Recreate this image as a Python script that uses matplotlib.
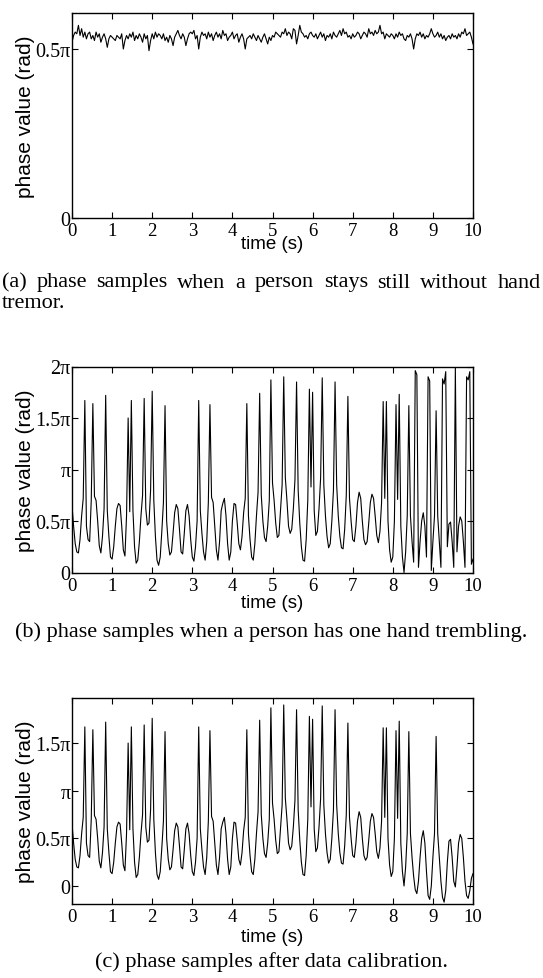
import numpy as np
import matplotlib
matplotlib.use('Agg')
import matplotlib.pyplot as plt

# phase values below are in units of pi (rad / pi), sampled every 0.04 s from 0 to 10 s

# (a) person stays still, no tremor
phase_still = [
    0.52, 0.54, 0.55, 0.545, 0.57, 0.54, 0.56, 0.535, 0.55, 0.53, 0.545, 0.55, 0.53, 0.54, 0.525, 0.55, 0.535, 0.545, 0.52, 0.535, 0.545, 0.53, 0.505, 0.53, 0.54,
    0.535, 0.53, 0.525, 0.54, 0.535, 0.53, 0.545, 0.50, 0.525, 0.54, 0.53, 0.545, 0.535, 0.55, 0.525, 0.54, 0.53, 0.545, 0.535, 0.52, 0.545, 0.53, 0.54, 0.495, 0.525,
    0.545, 0.53, 0.55, 0.535, 0.545, 0.54, 0.53, 0.545, 0.525, 0.535, 0.52, 0.54, 0.53, 0.51, 0.535, 0.545, 0.555, 0.54, 0.53, 0.545, 0.535, 0.51, 0.53, 0.545, 0.55,
    0.545, 0.555, 0.53, 0.54, 0.50, 0.535, 0.55, 0.54, 0.545, 0.53, 0.55, 0.535, 0.545, 0.525, 0.54, 0.55, 0.535, 0.545, 0.53, 0.555, 0.54, 0.545, 0.525, 0.535, 0.54,
    0.55, 0.53, 0.54, 0.545, 0.52, 0.535, 0.545, 0.53, 0.50, 0.53, 0.535, 0.54, 0.53, 0.545, 0.535, 0.525, 0.54, 0.53, 0.52, 0.535, 0.545, 0.53, 0.515, 0.535, 0.525,
    0.54, 0.535, 0.55, 0.545, 0.54, 0.535, 0.55, 0.545, 0.56, 0.54, 0.55, 0.545, 0.53, 0.56, 0.555, 0.515, 0.54, 0.57, 0.55, 0.545, 0.535, 0.54, 0.53, 0.545, 0.55,
    0.54, 0.535, 0.545, 0.53, 0.54, 0.55, 0.535, 0.545, 0.525, 0.54, 0.535, 0.545, 0.53, 0.55, 0.54, 0.535, 0.545, 0.555, 0.54, 0.56, 0.545, 0.55, 0.535, 0.54, 0.53,
    0.545, 0.535, 0.54, 0.55, 0.545, 0.53, 0.54, 0.55, 0.545, 0.535, 0.56, 0.545, 0.55, 0.54, 0.555, 0.545, 0.55, 0.57, 0.545, 0.55, 0.53, 0.545, 0.54, 0.535, 0.545,
    0.54, 0.53, 0.545, 0.535, 0.55, 0.54, 0.545, 0.53, 0.525, 0.54, 0.535, 0.545, 0.53, 0.50, 0.53, 0.545, 0.54, 0.55, 0.535, 0.545, 0.53, 0.54, 0.535, 0.545, 0.56,
    0.545, 0.535, 0.54, 0.55, 0.535, 0.545, 0.53, 0.54, 0.525, 0.535, 0.54, 0.53, 0.545, 0.535, 0.54, 0.53, 0.545, 0.535, 0.55, 0.545, 0.56, 0.54, 0.545, 0.55, 0.535, 0.515,
]

# (b)/(c) hand trembling: 0 .. 8.28 s is the same in the raw and calibrated traces
phase_tremor = [
    0.65, 0.45, 0.28, 0.20, 0.19, 0.32, 0.55, 0.72, 1.67, 0.45, 0.32, 0.30, 0.70, 1.64, 0.74, 0.70, 0.50, 0.26, 0.19, 0.35, 0.62, 1.72, 0.60, 0.35, 0.15,
    0.13, 0.25, 0.45, 0.62, 0.67, 0.65, 0.45, 0.22, 0.16, 0.55, 1.50, 0.59, 1.67, 0.60, 0.25, 0.09, 0.12, 0.30, 0.55, 0.75, 1.69, 0.62, 0.46, 0.48, 0.80,
    1.76, 0.70, 0.35, 0.12, 0.07, 0.15, 0.40, 0.68, 1.62, 0.50, 0.28, 0.17, 0.20, 0.38, 0.58, 0.66, 0.62, 0.42, 0.20, 0.18, 0.38, 0.60, 0.66, 0.55, 0.32,
    0.15, 0.11, 0.25, 0.50, 1.67, 0.60, 0.38, 0.20, 0.12, 0.30, 0.68, 1.63, 0.73, 0.68, 0.45, 0.22, 0.12, 0.30, 0.60, 0.67, 0.72, 0.55, 0.28, 0.12, 0.20,
    0.50, 0.67, 0.66, 0.48, 0.28, 0.22, 0.35, 0.58, 0.72, 1.64, 0.55, 0.32, 0.15, 0.12, 0.28, 0.55, 0.78, 1.74, 0.75, 0.50, 0.34, 0.30, 0.45, 0.70, 1.87,
    0.87, 0.70, 0.48, 0.34, 0.36, 0.60, 0.85, 1.90, 0.92, 0.70, 0.45, 0.38, 0.42, 0.62, 0.90, 1.85, 0.80, 0.48, 0.25, 0.12, 0.11, 0.32, 0.70, 1.78, 0.83,
    1.75, 0.60, 0.36, 0.40, 0.62, 0.92, 1.89, 0.85, 0.55, 0.35, 0.24, 0.28, 0.50, 0.80, 1.85, 0.85, 0.55, 0.35, 0.24, 0.23, 0.42, 0.75, 1.71, 0.72, 0.50,
    0.32, 0.30, 0.45, 0.68, 0.78, 0.72, 0.50, 0.32, 0.27, 0.30, 0.48, 0.68, 0.76, 0.72, 0.55, 0.36, 0.29, 0.40, 0.68, 1.66, 0.72, 1.66, 0.50, 0.22, 0.10,
    0.15, 0.50, 1.63, 0.71, 1.73, 0.45, 0.15, 0.00,
]
# 8.32 .. 10 s, raw phase (wraps around 2*pi)
phase_raw_tail = [
    0.20, 0.55, 1.62, 0.55, 0.30, 0.10, 1.96, 1.92, 0.05, 0.30, 0.50, 0.58, 0.45, 0.15, 1.90, 1.86, 0.02, 0.30, 0.55, 1.57, 0.55, 0.30, 0.05, 1.88, 1.83,
    1.95, 0.25, 0.47, 0.49, 0.30, 0.05, 1.99, 0.20, 0.45, 0.54, 0.50, 0.30, 0.05, 1.90, 1.87, 1.95, 0.08, 0.13,
]
# 8.32 .. 10 s, after calibration
phase_calib_tail = [
    0.20, 0.55, 1.62, 0.55, 0.30, 0.10, -0.04, -0.08, 0.05, 0.30, 0.50, 0.58, 0.45, 0.15, -0.10, -0.14, 0.00, 0.30, 0.55, 1.57, 0.55, 0.30, 0.05, -0.12, -0.17,
    -0.05, 0.25, 0.47, 0.49, 0.30, 0.05, -0.01, 0.20, 0.45, 0.54, 0.50, 0.30, 0.05, -0.10, -0.13, -0.05, 0.08, 0.13,
]

x_ticks = list(range(11))
yticks_a, ylabels_a = [0, 0.5], ['0', '0.5π']
yticks_b, ylabels_b = [0, 0.5, 1, 1.5, 2], ['0', '0.5π', 'π', '1.5π', '2π']
yticks_c, ylabels_c = [0, 0.5, 1, 1.5], ['0', '0.5π', 'π', '1.5π']

captions = [
    "(a) phase samples when a person stays still without hand",
    "tremor.",
    "(b) phase samples when a person has one hand trembling.",
    "(c) phase samples after data calibration.",
]

plt.rcParams['font.family'] = ['Liberation Serif', 'DejaVu Serif']

W, H = 543, 979
fig = plt.figure(figsize=(W / 100, H / 100), dpi=100)


def px_axes(left, top, right, bottom):
    return fig.add_axes([left / W, 1 - bottom / H, (right - left) / W, (bottom - top) / H])


def style(ax, yticks, ylabels, ylim, xlab_off):
    ax.set_xlim(0, 10)
    ax.set_ylim(ylim[0] * np.pi, ylim[1] * np.pi)
    ax.set_xticks(x_ticks)
    ax.set_xticklabels([str(v) for v in x_ticks])
    ax.set_yticks([v * np.pi for v in yticks])
    ax.set_yticklabels(ylabels)
    ax.tick_params(direction='in', length=4, width=0.8, top=True, right=True,
                   colors='black')
    ax.tick_params(axis='x', pad=3, labelsize=13.5)
    ax.tick_params(axis='y', pad=1, labelsize=14.5)
    for sp in ax.spines.values():
        sp.set_linewidth(1.0)
    ax.text(-0.115, 0.5, 'phase value (rad)', transform=ax.transAxes, rotation=90,
            ha='center', va='center', fontsize=15, family='Liberation Sans')
    ax.text(0.5, xlab_off, 'time (s)', transform=ax.transAxes, ha='center',
            va='center', fontsize=13.5, family='Liberation Sans')


def justify(words, y, x0, x1, size):
    texts = [fig.text(0, y, w, fontsize=size, va='center') for w in words]
    r = fig.canvas.get_renderer()
    widths = [t.get_window_extent(r).width for t in texts]
    gap = ((x1 - x0) - sum(widths)) / (len(words) - 1)
    x = x0
    for t, w in zip(texts, widths):
        t.set_x(x / W)
        x += w + gap


# (a)
ax_a = px_axes(72, 14, 473, 219)
t = np.linspace(0, 10, len(phase_still))
ax_a.plot(t, np.array(phase_still) * np.pi, color='black', lw=0.8)
style(ax_a, yticks_a, ylabels_a, (0, 0.6065), -0.124)

# (b)
raw = phase_tremor + phase_raw_tail
ax_b = px_axes(72, 367.5, 473, 573.5)
t = np.linspace(0, 10, len(raw))
ax_b.plot(t, np.array(raw) * np.pi, color='black', lw=0.8)
style(ax_b, yticks_b, ylabels_b, (0, 2), -0.148)

# (c)
calib = phase_tremor + phase_calib_tail
ax_c = px_axes(72, 699, 473, 905)
t = np.linspace(0, 10, len(calib))
ax_c.plot(t, np.array(calib) * np.pi, color='black', lw=0.8)
style(ax_c, yticks_c, ylabels_c, (-0.189, 1.973), -0.16)

cap_size = 16
justify(captions[0].split(), 1 - 283 / H, 2, 541, cap_size)
fig.text(2 / W, 1 - 303 / H, captions[1], fontsize=cap_size, va='center')
fig.text(0.5, 1 - 632 / H, captions[2], fontsize=cap_size, ha='center', va='center')
fig.text(0.5, 1 - 962 / H, captions[3], fontsize=cap_size, ha='center', va='center')

fig.savefig('out.png', dpi=100)
